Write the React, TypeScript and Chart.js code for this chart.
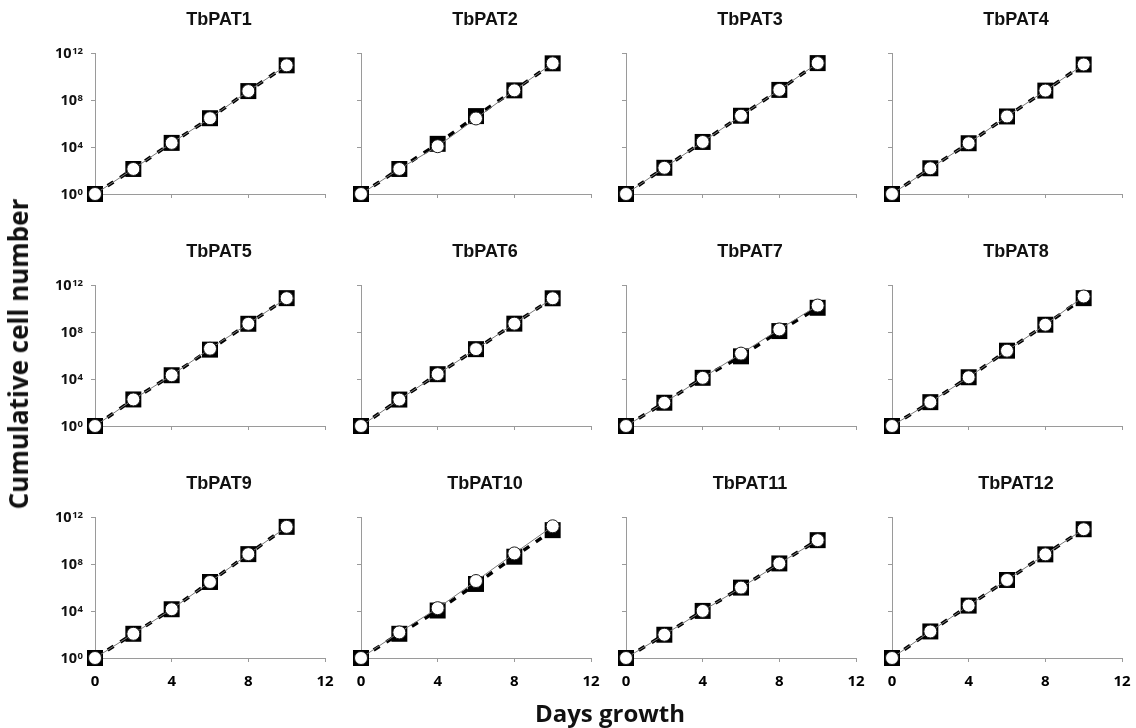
import React, { useEffect, useRef } from 'react';
import { Chart, registerables } from 'chart.js';

Chart.register(...registerables);

// ---------- data ----------
const days = [0, 2, 4, 6, 8, 10];
const xTicks = [0, 4, 8, 12];
const yTicks = [1, 1e4, 1e8, 1e12];
const yTickExponents = ['0', '4', '8', '12'];
const panelNames = [
  'TbPAT1', 'TbPAT2', 'TbPAT3', 'TbPAT4',
  'TbPAT5', 'TbPAT6', 'TbPAT7', 'TbPAT8',
  'TbPAT9', 'TbPAT10', 'TbPAT11', 'TbPAT12',
];

const tbpat1Squares = [1, 1.35e2, 2.24e4, 2.82e6, 5.75e8, 8.91e10];
const tbpat1Circles = [1, 1.35e2, 2.24e4, 2.82e6, 5.75e8, 8.91e10];
const tbpat2Squares = [1, 1.35e2, 1.86e4, 4.27e6, 6.61e8, 1.32e11];
const tbpat2Circles = [1, 1.35e2, 1.17e4, 2.69e6, 6.61e8, 1.32e11];
const tbpat3Squares = [1, 1.7e2, 2.69e4, 4.57e6, 7.24e8, 1.38e11];
const tbpat3Circles = [1, 1.7e2, 2.69e4, 4.57e6, 7.24e8, 1.38e11];
const tbpat4Squares = [1, 1.55e2, 2.09e4, 3.98e6, 6.31e8, 1.05e11];
const tbpat4Circles = [1, 1.55e2, 2.09e4, 3.98e6, 6.31e8, 1.05e11];
const tbpat5Squares = [1, 1.82e2, 2.09e4, 3.16e6, 5.01e8, 7.59e10];
const tbpat5Circles = [1, 1.82e2, 2.09e4, 3.8e6, 5.01e8, 7.59e10];
const tbpat6Squares = [1, 1.78e2, 2.57e4, 3.47e6, 5.13e8, 7.41e10];
const tbpat6Circles = [1, 1.78e2, 2.57e4, 3.47e6, 5.13e8, 7.41e10];
const tbpat7Squares = [1, 9.55e1, 1.26e4, 8.51e5, 1.2e8, 1.15e10];
const tbpat7Circles = [1, 9.55e1, 1.26e4, 1.45e6, 1.66e8, 1.78e10];
const tbpat8Squares = [1, 1.07e2, 1.41e4, 2.57e6, 4.17e8, 7.59e10];
const tbpat8Circles = [1, 1.07e2, 1.41e4, 2.57e6, 4.17e8, 1.05e11];
const tbpat9Squares = [1, 1.15e2, 1.41e4, 2.95e6, 6.92e8, 1.45e11];
const tbpat9Circles = [1, 1.15e2, 1.41e4, 2.95e6, 6.92e8, 1.45e11];
const tbpat10Squares = [1, 1.15e2, 1.1e4, 2.0e6, 4.17e8, 7.59e10];
const tbpat10Circles = [1, 1.51e2, 1.74e4, 3.55e6, 7.94e8, 1.62e11];
const tbpat11Squares = [1, 9.55e1, 1.02e4, 9.77e5, 1.12e8, 1.07e10];
const tbpat11Circles = [1, 9.55e1, 1.02e4, 9.77e5, 1.12e8, 1.07e10];
const tbpat12Squares = [1, 1.82e2, 2.88e4, 4.37e6, 6.61e8, 9.12e10];
const tbpat12Circles = [1, 1.82e2, 2.88e4, 4.37e6, 6.61e8, 9.12e10];

const squareSeries = [
  tbpat1Squares, tbpat2Squares, tbpat3Squares, tbpat4Squares,
  tbpat5Squares, tbpat6Squares, tbpat7Squares, tbpat8Squares,
  tbpat9Squares, tbpat10Squares, tbpat11Squares, tbpat12Squares,
];
const circleSeries = [
  tbpat1Circles, tbpat2Circles, tbpat3Circles, tbpat4Circles,
  tbpat5Circles, tbpat6Circles, tbpat7Circles, tbpat8Circles,
  tbpat9Circles, tbpat10Circles, tbpat11Circles, tbpat12Circles,
];

// ---------- layout ----------
const COL_LEFT = [95, 361, 626, 892];
const ROW_TOP = [53, 285, 517];
const PLOT_W = 230;
const PLOT_H = 141;
const AXIS_W = 60;
const TOP_PAD = 45;
const RIGHT_PAD = 24;
const X_AXIS_H = 40;
const CANVAS_W = AXIS_W + PLOT_W + RIGHT_PAD;
const CANVAS_H = TOP_PAD + PLOT_H + X_AXIS_H;
const AXIS_GRAY = '#9a9a9a';

type PanelProps = {
  name: string;
  squares: number[];
  circles: number[];
  showX: boolean;
  showY: boolean;
  left: number;
  top: number;
};

function Panel({ name, squares, circles, showX, showY, left, top }: PanelProps) {
  const ref = useRef<HTMLCanvasElement | null>(null);

  useEffect(() => {
    if (!ref.current) return;
    const decor = {
      id: 'panelDecor',
      afterDraw(chart: any) {
        const ctx = chart.ctx as CanvasRenderingContext2D;
        const a = chart.chartArea;
        ctx.save();
        ctx.fillStyle = '#111';
        ctx.font = 'bold 18px "Liberation Sans", Arial, sans-serif';
        ctx.textAlign = 'center';
        ctx.textBaseline = 'middle';
        ctx.fillText(name, (a.left + a.right) / 2 + 9, a.top - 33);
        if (showY) {
          const ys = chart.scales.y;
          yTicks.forEach((v, i) => {
            const py = ys.getPixelForValue(v);
            const right = a.left - 12;
            const exp = yTickExponents[i];
            ctx.font = 'bold 9.5px "Open Sans", sans-serif';
            const ew = ctx.measureText(exp).width;
            ctx.textAlign = 'left';
            ctx.textBaseline = 'alphabetic';
            ctx.fillText(exp, right - ew, py + 0.5);
            ctx.font = 'bold 14.5px "Open Sans", sans-serif';
            ctx.textAlign = 'right';
            ctx.fillText('10', right - ew - 0.5, py + 5);
          });
        }
        ctx.restore();
      },
    };

    const chart = new Chart(ref.current, {
      type: 'line',
      data: {
        datasets: [
          {
            label: 'circles',
            data: days.map((d, i) => ({ x: d, y: circles[i] })),
            borderColor: '#7a7a7a',
            borderWidth: 1,
            pointStyle: 'circle',
            pointRadius: 6.5,
            pointBackgroundColor: '#ffffff',
            pointBorderColor: '#1a1a1a',
            pointBorderWidth: 1,
            tension: 0,
            clip: false as any,
          },
          {
            label: 'squares',
            data: days.map((d, i) => ({ x: d, y: squares[i] })),
            borderColor: '#000000',
            borderWidth: 3.5,
            borderDash: [7, 8],
            pointStyle: 'rect',
            pointRadius: 11.3,
            pointBackgroundColor: '#000000',
            pointBorderColor: '#000000',
            pointBorderWidth: 0,
            tension: 0,
            clip: false as any,
          },
        ],
      },
      options: {
        animation: false,
        responsive: false,
        maintainAspectRatio: false,
        events: [],
        layout: { padding: { top: TOP_PAD, right: RIGHT_PAD, left: 0, bottom: 0 } },
        plugins: {
          legend: { display: false },
          tooltip: { enabled: false },
          title: { display: false },
        },
        scales: {
          x: {
            type: 'linear',
            min: 0,
            max: 12,
            afterBuildTicks: (s: any) => {
              s.ticks = xTicks.map((v) => ({ value: v }));
            },
            afterFit: (s: any) => {
              s.height = X_AXIS_H;
            },
            ticks: {
              display: showX,
              autoSkip: false,
              maxRotation: 0,
              padding: 11,
              color: '#000',
              font: { family: '"Open Sans", sans-serif', weight: 'bold', size: 15 },
            },
            grid: {
              display: true,
              drawOnChartArea: false,
              drawTicks: true,
              tickLength: 4,
              color: AXIS_GRAY,
            },
            border: { display: true, color: AXIS_GRAY, width: 1 },
          },
          y: {
            type: 'logarithmic',
            min: 1,
            max: 1e12,
            afterBuildTicks: (s: any) => {
              s.ticks = yTicks.map((v) => ({ value: v }));
            },
            afterFit: (s: any) => {
              s.width = AXIS_W;
            },
            ticks: { display: false },
            grid: {
              display: true,
              drawOnChartArea: false,
              drawTicks: true,
              tickLength: 4,
              color: AXIS_GRAY,
            },
            border: { display: true, color: AXIS_GRAY, width: 1 },
          },
        },
      } as any,
      plugins: [decor],
    });
    return () => chart.destroy();
  }, [name, squares, circles, showX, showY]);

  return (
    <canvas
      ref={ref}
      width={CANVAS_W}
      height={CANVAS_H}
      style={{
        position: 'absolute',
        left: left - AXIS_W,
        top: top - TOP_PAD,
        width: CANVAS_W,
        height: CANVAS_H,
      }}
    />
  );
}

export default function App() {
  return (
    <div
      style={{
        position: 'absolute',
        left: 0,
        top: 0,
        width: 1136,
        height: 728,
        background: '#ffffff',
        overflow: 'hidden',
      }}
    >
      {panelNames.map((name, i) => {
        const r = Math.floor(i / 4);
        const c = i % 4;
        return (
          <Panel
            key={name}
            name={name}
            squares={squareSeries[i]}
            circles={circleSeries[i]}
            showX={r === 2}
            showY={c === 0}
            left={COL_LEFT[c]}
            top={ROW_TOP[r]}
          />
        );
      })}
      <div
        style={{
          position: 'absolute',
          left: 18,
          top: 354,
          transform: 'translate(-50%, -50%) rotate(-90deg)',
          whiteSpace: 'nowrap',
          font: 'bold 26px "Open Sans", sans-serif',
          color: '#111',
        }}
      >
        Cumulative cell number
      </div>
      <div
        style={{
          position: 'absolute',
          left: 610,
          top: 712,
          transform: 'translate(-50%, -50%)',
          whiteSpace: 'nowrap',
          font: 'bold 24px "Open Sans", sans-serif',
          color: '#111',
        }}
      >
        Days growth
      </div>
    </div>
  );
}
